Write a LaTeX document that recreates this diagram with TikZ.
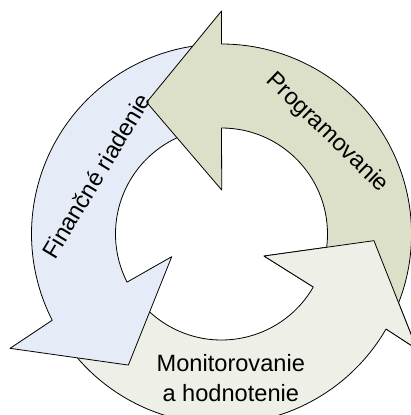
\documentclass[tikz,border=0pt]{standalone}
\usepackage{fontspec}
\setmainfont{Liberation Sans}
\usepackage{xcolor}
\definecolor{cgreen}{HTML}{DDE0C9}
\definecolor{cblue}{HTML}{E6ECF7}
\definecolor{cgrey}{HTML}{EEEFE6}
\usetikzlibrary{calc}
\newcommand{\Rin}{106}
\newcommand{\Rout}{190}

\begin{document}
\begin{tikzpicture}[x=1pt,y=1pt,
  blk/.style={draw=black,line width=0.8pt,line join=round},
  lbl/.style={font=\fontsize{23.6}{28}\selectfont,inner sep=0pt}]
\useasboundingbox (-221.5,-181) rectangle (189.5,234);
\clip (-221.5,-181) rectangle (189.5,234);
% arrows: tail / back / inner wing / tip / outer wing / colour
\foreach \t/\b/\wi/\tp/\wo/\c in {212/330/332.6:47.9/357.5:152.6/329.5:226.8/cgrey,
    92/207/204.5:54.7/234.6:160.8/208.4:240.4/cblue,
    -26/90/89.7:44/119.6:151.5/90:223/cgreen}{
  \draw[blk,fill=\c] (\t:\Rout) arc[start angle=\t,end angle=\b,radius=\Rout]
    -- (\wo) -- (\tp) -- (\wi) -- (\b:\Rin)
    arc[start angle=\b,end angle=\t,radius=\Rin] -- cycle;}
% head of the bottom arrow lies over the tail of the green one
\fill[cgrey] (330:\Rin) -- (332.6:47.9) -- (357.5:152.6) -- (329.5:226.8) -- (330:\Rout) -- cycle;
\draw[blk] (330:\Rin) -- (332.6:47.9) -- (357.5:152.6) -- (329.5:226.8) -- (330:\Rout);
% labels
\node[lbl,rotate=-44] (prog) at (105.5,101) {Programovanie};
\node[lbl,rotate=59] (fin) at (-125.5,58) {Finančné riadenie};
\node[lbl,anchor=base] (mon) at (9.3,-137.7) {Monitorovanie};
\node[lbl,anchor=base] (hod) at (9.3,-167.7) {a hodnotenie};
\end{tikzpicture}
\end{document}
